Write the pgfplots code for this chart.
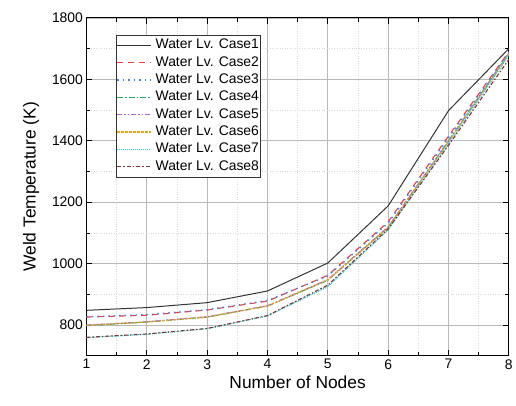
\documentclass[border=0pt]{standalone}
\usepackage{fontspec}
\setmainfont{Liberation Sans}
\usepackage{pgfplots}
\pgfplotsset{compat=1.18}
\usepackage{pgfplotstable}

% weld temperature per node, one column per water level case
\pgfplotstableread{
node c1   c2   c3   c4   c5   c6   c7   c8
1    848  826  827  798  800  799  759  760
2    857  832  834  810  811  810  770  771
3    873  849  850  826  827  826  788  789
4    911  878  880  862  863  862  830  831
5    1002 962  960  946  948  947  925  930
6    1188 1136 1132 1118 1120 1118 1110 1113
7    1498 1415 1410 1400 1398 1396 1390 1385
8    1700 1690 1688 1684 1686 1682 1678 1665
}\welddata

\definecolor{cBlack}{HTML}{333333}
\definecolor{cRed}{HTML}{F03C3C}
\definecolor{cBlue}{HTML}{3C82E6}
\definecolor{cGreen}{HTML}{1FA860}
\definecolor{cPurple}{HTML}{A860F0}
\definecolor{cOrange}{HTML}{E6A420}
\definecolor{cCyan}{HTML}{20D0D0}
\definecolor{cBrown}{HTML}{8A3030}

\begin{document}
\begin{tikzpicture}
\begin{axis}[
    scale only axis,
    width=425bp, height=340bp,
    xmin=1, xmax=8,
    ymin=700, ymax=1800,
    xtick={1,...,8},
    ytick={800,1000,...,1800},
    minor x tick num=1,
    minor y tick num=1,
    tick align=inside,
    major tick length=6bp,
    minor tick length=4bp,
    axis line style={line width=1.2bp, black},
    every tick/.style={black, line width=0.8bp},
    grid=both,
    major grid style={line width=0.7bp, draw=gray!55},
    minor grid style={line width=0.5bp, draw=gray!30, dotted},
    /pgf/number format/assume math mode=true,
    /pgf/number format/1000 sep={},
    tick label style={font=\fontsize{14bp}{16bp}\selectfont},
    xlabel={Number of Nodes},
    ylabel={Weld Temperature (K)},
    label style={font=\fontsize{17.5bp}{20bp}\selectfont},
    xlabel style={yshift=0bp},
    ylabel style={yshift=6bp},
    legend style={
        at={(30bp,323bp)}, anchor=north west,
        draw=black!80, line width=0.6bp,
        font=\fontsize{14bp}{16bp}\selectfont,
        inner xsep=0bp, inner ysep=3bp,
        row sep=2.4bp, column sep=3bp,
        nodes={inner sep=1bp, text height=10bp, text depth=3bp},
    },
    legend cell align=left,
    legend image code/.code={\draw[#1] (-3bp,0bp) -- (31bp,0bp);},
]
\addplot[cBlack, line width=1bp] table[x=node, y=c1] {\welddata};
\addlegendentry{Water Lv. Case1}
\addplot[cRed, line width=1.1bp, dash pattern=on 6bp off 5bp] table[x=node, y=c2] {\welddata};
\addlegendentry{Water Lv. Case2}
\addplot[cBlue, line width=1.3bp, dash pattern=on 1.5bp off 4bp] table[x=node, y=c3] {\welddata};
\addlegendentry{Water Lv. Case3}
\addplot[cGreen, line width=1.1bp, dash pattern=on 6bp off 2bp on 1.5bp off 2bp] table[x=node, y=c4] {\welddata};
\addlegendentry{Water Lv. Case4}
\addplot[cPurple, line width=1.1bp, dash pattern=on 5bp off 2bp on 1.5bp off 2bp on 1.5bp off 2bp] table[x=node, y=c5] {\welddata};
\addlegendentry{Water Lv. Case5}
\addplot[cOrange, line width=1.3bp, dash pattern=on 2.5bp off 1.5bp] table[x=node, y=c6] {\welddata};
\addlegendentry{Water Lv. Case6}
\addplot[cCyan, line width=1.2bp, dash pattern=on 1bp off 1bp] table[x=node, y=c7] {\welddata};
\addlegendentry{Water Lv. Case7}
\addplot[cBrown, line width=1.1bp, dash pattern=on 4bp off 2bp on 1.5bp off 2bp] table[x=node, y=c8] {\welddata};
\addlegendentry{Water Lv. Case8}
\end{axis}
\path (current axis.south west) ++(-87bp,-50bp) rectangle ++(516bp,408bp);
\end{tikzpicture}
\end{document}
